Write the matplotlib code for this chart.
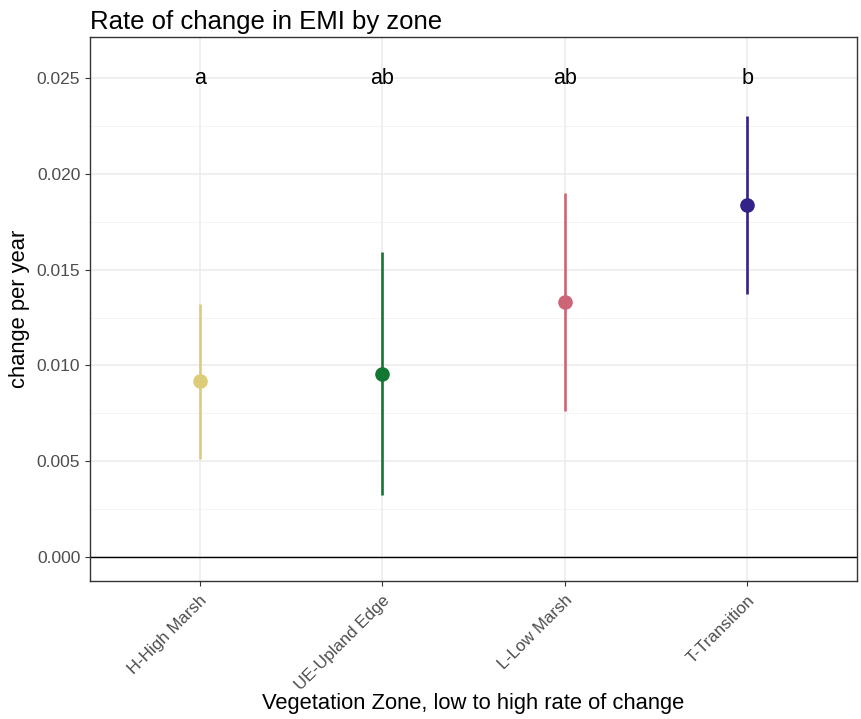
import matplotlib
matplotlib.use("Agg")
import matplotlib.pyplot as plt
from matplotlib.ticker import MultipleLocator, FormatStrFormatter

plt.rcParams['font.family'] = ['Liberation Sans', 'DejaVu Sans']

# Data.
zones = ['H-High Marsh', 'UE-Upland Edge', 'L-Low Marsh', 'T-Transition']
rate = [0.00919, 0.00955, 0.01331, 0.01837]
lower = [0.00511, 0.00324, 0.00762, 0.01373]
upper = [0.01320, 0.01592, 0.01900, 0.02302]
letters = ['a', 'ab', 'ab', 'b']
colours = ['#DDCC77', '#117733', '#CC6677', '#332288']

W, H = 861, 719
fig = plt.figure(figsize=(W / 100, H / 100), dpi=100)
ax = fig.add_axes([90 / W, 1 - 581 / H, 767 / W, 544 / H])

xs = list(range(1, len(zones) + 1))
for x, y, lo, hi, col in zip(xs, rate, lower, upper, colours):
    ax.vlines(x, lo, hi, color=col, linewidth=1.9, zorder=3)
    ax.plot(x, y, 'o', color=col, markersize=9.5, zorder=4)

for x, lab in zip(xs, letters):
    ax.text(x, 0.025, lab, ha='center', va='center', fontsize=15.5, color='black')

ax.axhline(0, color='black', linewidth=1.0, zorder=2)

ax.set_xlim(0.4, 4.6)
ax.set_ylim(-0.00125, 0.02714)
ax.set_xticks(xs)
ax.set_xticklabels(zones, rotation=45, ha='right', rotation_mode='anchor',
                   fontsize=12.2, color='#4D4D4D')
ax.yaxis.set_major_locator(MultipleLocator(0.005))
ax.yaxis.set_minor_locator(MultipleLocator(0.0025))
ax.yaxis.set_major_formatter(FormatStrFormatter('%.3f'))
for lab in ax.get_yticklabels():
    lab.set_fontsize(12.5)
    lab.set_color('#4D4D4D')

ax.grid(True, which='major', color='#EBEBEB', linewidth=1.1, zorder=0)
ax.grid(True, which='minor', axis='y', color='#F2F2F2', linewidth=0.6, zorder=0)
ax.set_axisbelow(True)
ax.tick_params(axis='both', which='major', length=3.5, width=0.8, color='#333333')
ax.tick_params(axis='x', which='major', pad=5)
ax.tick_params(axis='y', which='minor', length=0)
for s in ax.spines.values():
    s.set_color('#333333')
    s.set_linewidth(1.0)

# titles placed in figure pixels to match the reference layout
fig.text(473 / W, 1 - 703 / H, 'Vegetation Zone, low to high rate of change',
         fontsize=15.8, ha='center', va='center')
fig.text(20 / W, 1 - 309 / H, 'change per year', fontsize=15.8,
         rotation=90, ha='center', va='center')
fig.text(90 / W, 1 - 22 / H, 'Rate of change in EMI by zone', fontsize=18.5,
         ha='left', va='center')

fig.savefig('out.png', dpi=100)
